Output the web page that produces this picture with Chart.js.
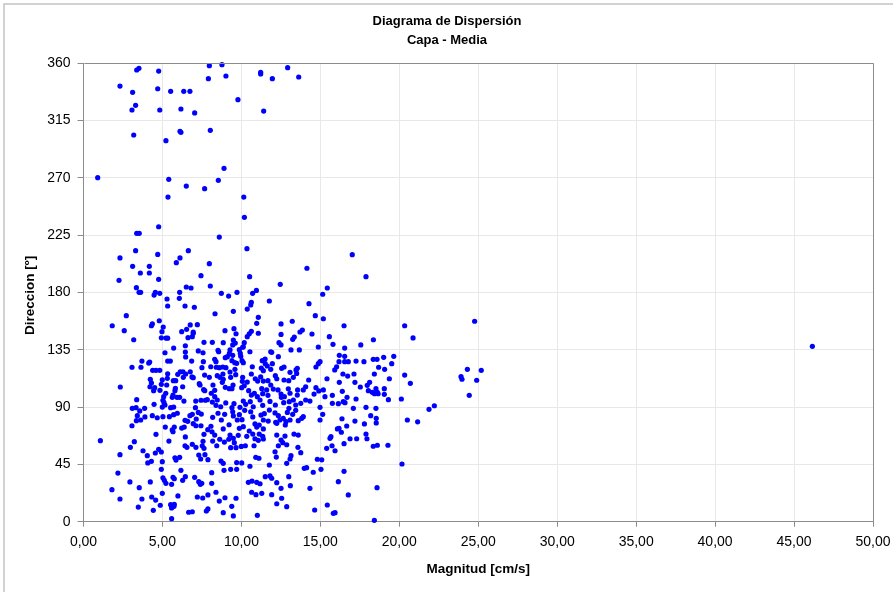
<!DOCTYPE html>
<html>
<head>
<meta charset="utf-8">
<script src="https://cdn.jsdelivr.net/npm/chart.js@4.4.1/dist/chart.umd.min.js"></script>
<style>
  html, body { margin: 0; padding: 0; background: #fff; }
  #wrap { width: 893px; height: 592px; position: relative; }
</style>
</head>
<body>
<div id="wrap"><canvas id="scatter" width="893" height="592"></canvas></div>
<script>
// Magnitud [cm/s] / Direccion [º] pairs
const magnitud = [
  3.37,3.51,4.76,7.97,8.77,7.91,9.02,11.22,11.22,2.31,3.11,4.70,5.52,6.35,6.74,9.78,3.30,3.07,4.83,6.17,7.04,11.41,
  3.18,6.11,6.17,8.03,5.22,0.90,5.40,6.51,7.67,8.54,8.90,5.35,10.15,10.19,3.37,3.53,4.76,8.60,10.35,2.31,3.30,4.70,
  6.64,6.11,5.88,3.11,4.17,3.60,4.17,7.97,7.44,2.25,4.76,10.52,3.35,3.52,3.62,4.55,4.47,4.83,6.51,6.81,8.03,6.09,
  8.73,9.19,9.72,10.71,10.95,5.29,6.07,
  11.96,12.93,13.63,17.02,14.15,17.89,12.46,15.44,15.15,
  24.77,46.16,24.31,25.19,23.91,23.97,24.90,24.43,
  16.50,20.34,20.87,17.56,18.36,16.54,16.20,16.54,16.18,16.54,16.77,17.26,17.76,18.35,18.59,19.01,19.65,19.52,
  16.03,18.69,19.07,16.43,16.73,17.13,18.42,20.34,19.37,16.20,17.19,18.12,17.97,20.70,17.53,19.05,16.39,18.04,
  18.29,18.52,18.61,18.43,18.66,19.05,16.69,17.26,19.31,20.13,16.14,16.45,16.56,17.09,17.89,18.52,22.22,21.88,
  16.37,17.19,18.19,18.54,18.54,17.79,16.67,16.08,16.18,16.33,20.51,21.16,17.89,17.95,16.88,17.30,16.50,18.35,
  18.61,19.28,15.93,20.17,16.50,16.14,18.59,16.77,15.93,18.42,
  5.33,6.43,7.02,2.71,1.82,2.58,3.18,4.36,4.30,4.80,5.05,4.97,4.93,5.22,5.33,6.22,6.53,6.76,7.21,6.95,6.95,6.62,
  6.89,7.63,6.45,5.71,5.16,6.45,7.27,7.57,6.47,6.85,7.59,3.70,4.19,4.13,5.33,5.50,3.07,3.64,4.38,4.59,4.83,5.33,
  5.31,6.13,6.30,6.76,5.97,6.47,6.87,6.95,7.50,7.67,7.97,4.23,4.30,4.21,4.93,4.99,5.69,5.84,5.27,6.32,6.28,5.82,
  5.79,7.33,7.38,7.61,2.33,4.44,4.51,4.84,7.68,5.21,5.67,5.92,6.09,6.36,5.08,5.03,5.10,3.37,3.33,3.09,3.87,4.47,
  7.11,7.44,7.84,7.71,5.62,5.52,5.71,4.99,5.16,7.09,
  3.56,3.41,3.62,3.35,3.89,3.07,4.36,4.67,5.03,5.44,5.71,5.94,5.18,5.62,5.75,5.67,6.22,6.38,6.43,6.60,6.74,6.89,
  7.14,7.27,7.46,6.95,7.12,7.44,7.87,7.63,4.59,5.41,6.45,6.43,6.55,6.89,7.12,7.57,7.52,7.63,1.07,2.31,2.97,3.22,
  3.77,4.04,4.07,4.30,4.55,4.76,4.93,4.99,4.93,5.79,6.09,5.86,7.30,7.42,7.69,7.88,2.18,1.80,2.31,2.94,3.53,4.23,
  5.03,5.12,5.22,5.58,5.67,5.75,4.99,6.17,6.45,6.28,7.04,7.30,7.40,7.49,5.98,3.70,4.32,4.57,3.47,4.86,5.52,5.62,
  5.75,5.58,5.73,4.42,5.58,6.66,6.89,7.21,7.55,7.88,7.78,7.88,
  11.77,10.63,10.59,8.33,9.49,10.37,14.28,11.07,10.97,14.68,15.19,12.51,13.22,8.96,9.53,9.66,10.37,10.50,10.63,
  11.07,12.51,13.25,13.35,13.71,13.86,14.47,15.57,8.16,8.85,9.49,9.61,9.45,10.18,10.12,12.38,12.51,13.14,13.67,
  14.87,15.80,8.52,8.56,9.28,9.24,9.87,10.08,9.93,10.54,11.86,8.31,8.39,8.98,9.11,9.45,9.40,9.58,9.96,10.04,10.12,
  9.70,11.32,11.51,11.50,11.92,11.96,12.34,10.69,11.26,11.39,11.64,11.86,12.55,12.70,13.08,13.46,13.54,14.72,
  14.87,14.98,15.91,8.06,8.41,8.60,8.82,9.02,8.47,8.64,8.83,8.85,9.28,9.59,9.32,9.64,10.08,10.06,10.37,10.63,
  10.88,11.03,11.22,11.39,11.68,11.86,12.15,12.24,12.70,13.00,13.29,13.50,14.26,15.42,8.20,8.31,8.09,8.79,8.98,
  9.23,9.40,9.47,10.02,10.18,10.46,10.63,10.82,11.01,11.29,11.35,11.60,11.68,12.02,12.32,12.51,12.72,12.97,13.08,
  13.54,13.56,13.92,14.07,14.72,14.60,14.90,15.19,15.76,8.31,8.47,8.16,8.39,8.69,9.01,9.40,9.53,9.91,10.12,10.27,
  10.56,10.75,11.18,11.35,11.81,12.15,12.53,12.68,13.03,13.29,13.44,13.76,14.07,14.34,14.98,15.76,15.29,
  8.18,8.52,8.94,8.73,9.22,8.85,8.07,8.14,8.31,8.18,8.44,8.63,8.92,9.20,9.32,9.66,9.55,9.45,9.49,9.74,10.04,9.87,
  10.21,10.12,9.87,9.28,9.49,9.80,10.34,9.99,10.25,10.59,10.72,10.86,10.97,10.50,10.72,10.86,11.13,11.13,11.39,
  11.24,11.45,11.77,11.70,11.39,11.35,11.39,10.80,11.07,12.13,12.34,12.17,12.44,12.65,12.91,13.01,13.25,13.44,
  12.24,12.82,12.78,13.08,13.60,13.92,13.82,12.24,12.51,12.62,12.76,12.87,13.33,13.60,13.14,13.08,13.58,13.76,
  12.13,12.34,12.21,10.91,11.11,8.71,8.85,9.32,8.90,9.70,10.02,9.70,8.12,8.12,8.39,8.96,8.60,9.66,9.39,8.85,9.49,
  10.54,11.77,12.87,13.98,14.13,14.55,15.09,15.61,15.67,15.40,15.74,11.51,11.81,11.92,10.44,10.67,10.97,11.18,
  12.24,12.51,13.10,13.00,10.65,10.92,11.29,11.92,12.55,12.24,12.87,14.34,14.64,15.44,15.04,14.81,11.01,15.82,
  15.15,14.98
];
const direccion = [
  354.5,355.8,353.7,357.9,358.7,347.7,349.8,352.7,351.4,341.9,337.0,339.8,337.8,337.8,337.8,331.2,326.8,323.1,323.1,323.9,320.8,322.3,
  303.5,306.4,305.6,307.2,299.0,270.0,268.7,263.4,261.4,267.9,277.3,254.8,254.8,238.9,226.3,226.3,231.5,223.4,214.3,207.0,212.7,209.8,
  212.7,207.0,203.3,200.4,200.4,195.2,195.2,202.5,193.1,189.4,190.2,192.3,183.7,180.0,180.0,180.0,177.9,179.2,184.2,183.4,185.0,180.0,
  179.2,177.1,180.0,179.2,181.5,174.8,175.3,
  347.7,356.3,349.0,209.6,198.9,192.3,186.3,183.4,178.5,
  157.3,137.6,119.6,118.8,113.8,111.8,111.0,99.2,
  153.8,153.8,144.2,138.7,142.8,136.3,130.6,129.8,125.6,125.6,125.6,126.1,125.6,127.4,127.4,129.0,129.8,124.0,
  121.6,121.2,119.6,115.9,114.3,115.9,115.9,115.1,112.2,109.4,109.4,109.4,107.0,108.6,105.7,104.4,102.3,102.8,
  101.5,104.4,101.5,100.4,100.4,100.0,97.6,96.3,95.8,96.3,92.6,94.2,93.4,89.0,89.8,89.0,91.0,88.2,
  80.8,79.0,83.2,81.1,77.5,76.7,75.1,72.8,73.3,70.2,79.8,78.4,68.8,65.1,65.1,65.1,61.2,59.2,
  60.0,60.0,55.7,45.3,39.5,31.4,26.7,21.0,7.1,1.1,
  169.3,169.3,168.3,161.7,153.8,149.9,142.8,155.2,153.8,157.7,152.8,149.1,144.3,144.1,144.0,149.1,151.0,154.4,154.6,148.9,147.9,144.4,
  145.2,140.8,138.1,136.3,132.6,133.2,134.0,132.6,129.3,126.1,125.6,126.1,125.3,124.5,126.1,126.1,121.2,121.2,118.8,118.8,118.8,116.1,
  112.5,117.7,117.7,117.7,115.7,115.9,113.6,113.0,120.9,115.1,113.3,111.8,108.9,105.9,107.8,111.4,110.7,110.7,107.3,113.3,105.9,104.7,
  102.8,108.3,107.3,103.6,105.7,102.8,105.2,103.1,102.8,100.8,99.4,97.6,97.6,94.7,98.1,95.3,93.4,95.8,89.5,89.0,89.0,92.1,
  94.7,95.3,95.8,95.3,97.6,89.5,90.0,90.0,91.6,89.5,
  86.9,83.2,79.8,79.3,82.2,75.3,83.2,81.6,82.4,82.4,84.0,85.1,74.3,72.0,74.3,70.6,73.5,74.3,79.6,78.8,83.2,84.3,
  80.6,85.8,84.5,76.9,75.3,75.3,72.2,68.6,68.6,63.3,66.5,59.6,58.4,60.7,58.4,63.1,59.6,57.6,63.6,52.6,58.4,62.8,
  55.7,51.8,46.1,47.4,53.9,56.8,54.7,47.1,41.1,50.2,50.5,48.4,52.3,49.2,52.6,48.7,38.2,25.1,17.8,31.2,26.7,31.2,
  34.5,32.5,30.1,29.3,34.8,33.7,22.3,40.3,35.3,32.5,34.8,31.4,29.3,30.1,20.2,17.8,19.4,17.0,11.5,12.9,13.4,11.8,
  13.7,10.8,12.1,8.9,2.4,7.4,7.8,19.4,18.6,21.0,8.4,10.0,
  173.2,172.2,170.1,163.2,165.1,166.9,171.1,160.4,155.7,161.7,159.3,155.2,157.3,149.9,151.5,147.5,145.2,147.5,149.4,
  147.9,147.0,143.1,144.9,148.9,150.4,147.3,145.2,140.8,140.5,142.6,140.2,138.7,140.5,137.3,140.5,138.7,134.8,134.8,
  137.1,139.2,134.5,133.4,134.8,132.1,135.0,136.9,132.1,133.4,133.4,127.4,125.6,128.7,129.5,130.6,126.4,124.8,129.8,126.4,124.8,
  124.3,126.4,124.0,127.7,132.9,124.0,129.5,121.6,120.6,118.5,122.2,119.6,120.4,121.4,117.2,119.1,120.4,121.4,
  124.0,125.6,119.1,121.6,121.2,120.9,121.4,120.9,114.6,113.3,115.9,111.8,117.5,119.6,113.3,115.4,113.3,110.2,109.6,115.9,
  112.2,110.4,113.6,110.4,110.7,107.3,114.6,112.2,111.2,110.7,113.3,116.4,111.2,112.2,107.3,103.1,100.8,109.4,105.5,
  104.4,104.4,107.3,105.2,106.7,102.8,99.4,100.8,98.1,104.4,100.5,103.4,99.2,104.1,103.4,100.2,98.1,104.3,100.8,
  99.4,103.4,103.4,105.9,105.2,100.2,102.6,103.4,99.2,98.1,95.5,93.9,91.3,90.2,93.2,89.5,92.6,89.8,94.7,92.1,
  94.2,90.2,95.5,91.3,94.4,91.6,97.6,93.4,94.2,95.5,91.6,92.9,95.5,94.7,89.8,92.9,98.1,
  81.9,85.1,84.3,79.8,76.1,72.8,74.9,70.6,68.0,63.3,59.6,64.7,62.5,64.7,58.1,58.1,62.0,86.3,83.0,79.8,80.1,84.0,
  87.4,74.6,73.3,68.0,65.4,67.8,67.0,59.1,59.6,86.3,82.2,76.7,74.3,71.2,68.8,65.1,68.8,75.9,79.8,
  83.7,84.8,87.6,79.0,72.8,67.0,64.9,59.6,63.9,85.4,83.2,78.0,79.8,81.1,85.8,89.0,84.3,87.4,
  77.2,78.5,75.9,79.8,79.3,82.4,81.1,68.0,64.1,62.0,67.2,60.4,68.8,68.0,51.8,49.2,58.4,54.2,
  54.9,59.6,50.7,50.5,49.8,47.6,45.8,41.1,40.3,46.4,46.1,41.1,38.5,30.1,23.1,18.8,16.2,18.4,12.1,7.1,4.5,
  43.5,44.5,45.8,41.9,42.4,38.8,48.6,65.4,66.7,57.6,59.6,35.3,35.9,34.1,30.9,31.9,30.9,29.8,
  30.6,26.2,28.3,35.3,23.1,21.2,22.3,21.2,18.4,14.1,11.8,26.2,9.2,13.1,41.1,49.0,5.0,6.6,
  84.3,79.8
];

const xTicks = [0, 5, 10, 15, 20, 25, 30, 35, 40, 45, 50];
const yTicks = [0, 45, 90, 135, 180, 225, 270, 315, 360];
const chartTitle = ['Diagrama de Dispersión', 'Capa - Media'];
const xTitle = 'Magnitud [cm/s]';
const yTitle = 'Direccion [º]';

const FONT = "'Liberation Sans', Arial, sans-serif";

const points = magnitud.map((m, i) => ({ x: m, y: direccion[i] }));

// white page, thin outer frame, frame around the plot and the texts
const decor = {
  id: 'decor',
  beforeDraw(chart) {
    const ctx = chart.ctx;
    ctx.save();
    ctx.fillStyle = '#fff';
    ctx.fillRect(0, 0, chart.width, chart.height);
    ctx.strokeStyle = '#c4c4c4';
    ctx.lineWidth = 1.5;
    ctx.strokeRect(4, 4, chart.width + 10, chart.height + 10);
    ctx.restore();
  },
  afterDatasetsDraw(chart) {
    const ctx = chart.ctx;
    const a = chart.chartArea;
    ctx.save();
    ctx.strokeStyle = '#8c8c8c';
    ctx.lineWidth = 1;
    ctx.beginPath();
    ctx.moveTo(Math.round(a.left) + 0.5, Math.round(a.top) + 0.5);
    ctx.lineTo(Math.round(a.right) + 0.5, Math.round(a.top) + 0.5);
    ctx.lineTo(Math.round(a.right) + 0.5, Math.round(a.bottom) + 0.5);
    ctx.stroke();

    ctx.fillStyle = '#000';
    ctx.textAlign = 'center';
    ctx.textBaseline = 'middle';
    ctx.font = 'bold 13px ' + FONT;
    ctx.fillText(chartTitle[0], 447, 21);
    ctx.fillText(chartTitle[1], 447, 40);

    ctx.font = 'bold 13.5px ' + FONT;
    ctx.fillText(xTitle, (a.left + a.right) / 2, 569);

    ctx.translate(30, (a.top + a.bottom) / 2 + 3);
    ctx.rotate(-Math.PI / 2);
    ctx.fillText(yTitle, 0, 0);
    ctx.restore();
  }
};

new Chart(document.getElementById('scatter').getContext('2d'), {
  type: 'scatter',
  data: {
    datasets: [{
      label: 'Capa - Media',
      data: points,
      backgroundColor: '#0000ff',
      borderWidth: 0,
      pointRadius: 2.6,
      pointHoverRadius: 2.6,
      clip: false
    }]
  },
  options: {
    responsive: false,
    animation: false,
    events: [],
    layout: { padding: { top: 63, right: 20, left: 0, bottom: 0 } },
    scales: {
      x: {
        type: 'linear',
        min: 0,
        max: 50,
        afterBuildTicks: s => { s.ticks = xTicks.map(v => ({ value: v })); },
        afterFit: s => { s.height = 70.3; s.paddingLeft = 0; s.paddingRight = 0; },
        ticks: {
          color: '#000',
          font: { family: FONT, size: 14 },
          padding: 7,
          maxRotation: 0,
          callback: v => v.toFixed(2).replace('.', ',')
        },
        grid: { color: '#e8e8e8', tickColor: '#8c8c8c', tickLength: 5 },
        border: { color: '#8c8c8c' }
      },
      y: {
        type: 'linear',
        min: 0,
        max: 360,
        afterBuildTicks: s => { s.ticks = yTicks.map(v => ({ value: v })); },
        afterFit: s => { s.width = 83.5; s.paddingTop = 0; s.paddingBottom = 0; },
        ticks: {
          color: '#000',
          font: { family: FONT, size: 14 },
          padding: 7
        },
        grid: { color: '#e8e8e8', tickColor: '#8c8c8c', tickLength: 6 },
        border: { color: '#8c8c8c' }
      }
    },
    plugins: {
      legend: { display: false },
      title: { display: false },
      tooltip: { enabled: false }
    }
  },
  plugins: [decor]
});
</script>
</body>
</html>
